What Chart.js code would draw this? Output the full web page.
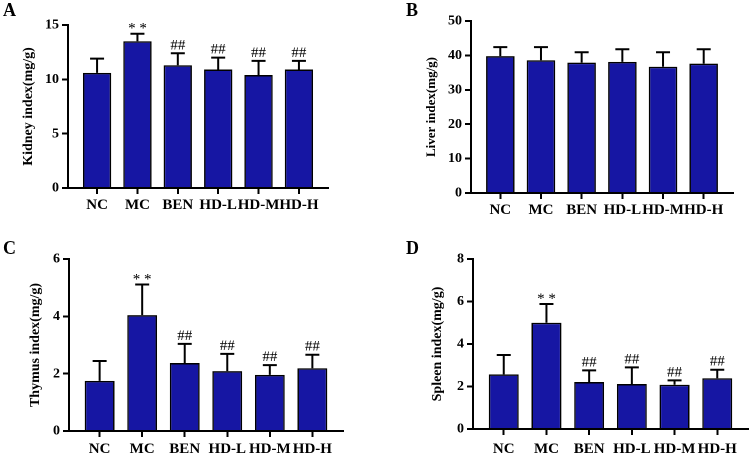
<!DOCTYPE html>
<html><head><meta charset="utf-8">
<script src="https://cdn.jsdelivr.net/npm/chart.js@4.4.1/dist/chart.umd.min.js"></script>
<style>
html,body{margin:0;padding:0;background:#fff;}
#wrap{position:relative;width:750px;height:453px;overflow:hidden;background:#fff;}
canvas{position:absolute;}
.lbl{position:absolute;font-family:"Liberation Serif","Times New Roman",serif;font-weight:bold;font-size:18px;line-height:18px;color:#000;}
</style></head>
<body><div id="wrap">
<canvas id="cA" width="375" height="226" style="left:0;top:0"></canvas>
<canvas id="cB" width="375" height="226" style="left:375px;top:0"></canvas>
<canvas id="cC" width="375" height="227" style="left:0;top:226px"></canvas>
<canvas id="cD" width="375" height="227" style="left:375px;top:226px"></canvas>
<div class="lbl" style="left:3px;top:1px">A</div>
<div class="lbl" style="left:406px;top:1px">B</div>
<div class="lbl" style="left:3px;top:239px">C</div>
<div class="lbl" style="left:406px;top:239px">D</div>
</div>
<script>
const categories = ['NC','MC','BEN','HD-L','HD-M','HD-H'];

const kidneyMean = [10.6, 13.5, 11.3, 10.9, 10.4, 10.9];
const kidneySD   = [1.3, 0.7, 1.1, 1.1, 1.3, 0.8];
const kidneyMarks = ['', '**', '##', '##', '##', '##'];

const liverMean = [39.8, 38.6, 37.9, 38.1, 36.7, 37.6];
const liverSD   = [2.6, 3.8, 3.0, 3.7, 4.2, 4.2];
const liverMarks = ['', '', '', '', '', ''];

const thymusMean = [1.75, 4.04, 2.37, 2.09, 1.96, 2.19];
const thymusSD   = [0.69, 1.07, 0.67, 0.60, 0.34, 0.47];
const thymusMarks = ['', '**', '##', '##', '##', '##'];

const spleenMean = [2.57, 5.0, 2.21, 2.12, 2.08, 2.39];
const spleenSD   = [0.91, 0.88, 0.55, 0.78, 0.21, 0.40];
const spleenMarks = ['', '**', '##', '##', '##', '##'];

const yTicksA = [0, 5, 10, 15];
const yTicksB = [0, 10, 20, 30, 40, 50];
const yTicksC = [0, 2, 4, 6];
const yTicksD = [0, 2, 4, 6, 8];

const SERIF = '"Liberation Serif","Times New Roman",serif';
const BAR_COLOR = '#1616a3';

const errPlugin = {
  id: 'errbars',
  afterDatasetsDraw(chart) {
    const {ctx} = chart;
    const xs = chart.scales.x, ys = chart.scales.y;
    const cfg = chart.options.plugins.errbars;
    ctx.save();
    ctx.strokeStyle = '#000';
    ctx.lineWidth = 2;
    cfg.mean.forEach((m, i) => {
      const x = xs.getPixelForValue(i);
      const y0 = ys.getPixelForValue(m);
      const y1 = ys.getPixelForValue(m + cfg.sd[i]);
      ctx.beginPath();
      ctx.moveTo(x, y0); ctx.lineTo(x, y1);
      ctx.moveTo(x - 7, y1); ctx.lineTo(x + 7, y1);
      ctx.stroke();
      if (cfg.marks[i]) {
        ctx.fillStyle = '#000';
        ctx.font = '15px ' + SERIF;
        ctx.textAlign = 'center';
        ctx.textBaseline = 'alphabetic';
        const star = cfg.marks[i] === '**';
        ctx.fillText(star ? '* *' : '##', x, y1 - 4 + (star ? 3 : 0));
      }
    });
    ctx.restore();
  }
};

function makeChart(id, mean, sd, marks, yTicks, title, lay) {
  const ymax = yTicks[yTicks.length - 1];
  return new Chart(document.getElementById(id), {
    type: 'bar',
    data: {
      datasets: [{
        data: mean.map((v, i) => ({x: i, y: v})),
        backgroundColor: BAR_COLOR,
        borderColor: '#000',
        borderWidth: 1.5,
        categoryPercentage: 1,
        barPercentage: 0.7
      }]
    },
    options: {
      responsive: false,
      animation: false,
      devicePixelRatio: 2,
      layout: {padding: {left: 0, top: lay.T, right: lay.R, bottom: lay.B}},
      plugins: {
        legend: {display: false},
        tooltip: {enabled: false},
        errbars: {mean: mean, sd: sd, marks: marks}
      },
      scales: {
        x: {
          type: 'linear',
          offset: false,
          min: -0.72, max: categories.length - 0.28,
          afterBuildTicks: s => { s.ticks = categories.map((c, i) => ({value: i})); },
          afterFit: s => { s.height = lay.H; },
          ticks: {
            autoSkip: false, maxRotation: 0, padding: lay.xpad,
            color: '#000',
            font: {family: SERIF, weight: 'bold', size: 15},
            callback: v => categories[v]
          },
          grid: {display: true, offset: false, drawOnChartArea: false, tickLength: 6, color: '#000', lineWidth: 2},
          border: {display: true, color: '#000', width: 2}
        },
        y: {
          min: 0, max: ymax,
          afterBuildTicks: s => { s.ticks = yTicks.map(v => ({value: v})); },
          afterFit: s => { s.width = lay.W; },
          ticks: {
            padding: 3, color: '#000',
            font: {family: SERIF, weight: 'bold', size: 14}
          },
          grid: {display: true, drawOnChartArea: false, tickLength: 6, color: '#000', lineWidth: 2},
          border: {display: true, color: '#000', width: 2},
          title: {
            display: true, text: title, color: '#000',
            font: {family: SERIF, weight: 'bold', size: lay.tsize},
            padding: {top: lay.tpad, bottom: 0}
          }
        }
      }
    },
    plugins: [errPlugin]
  });
}

makeChart('cA', kidneyMean, kidneySD, kidneyMarks, yTicksA, 'Kidney index(mg/g)',
  {W: 68, R: 47, T: 25, B: 8, H: 30, xpad: 2, tpad: 20, tsize: 14});
makeChart('cB', liverMean, liverSD, liverMarks, yTicksB, 'Liver index(mg/g)',
  {W: 96, R: 17, T: 21, B: 3, H: 30, xpad: 2, tpad: 49, tsize: 13});
makeChart('cC', thymusMean, thymusSD, thymusMarks, yTicksC, 'Thymus index(mg/g)',
  {W: 69, R: 32, T: 33, B: 0, H: 22, xpad: 3, tpad: 27, tsize: 14});
makeChart('cD', spleenMean, spleenSD, spleenMarks, yTicksD, 'Spleen index(mg/g)',
  {W: 98, R: 2, T: 33, B: 0, H: 24, xpad: 5, tpad: 54, tsize: 14});
</script>
</body></html>
